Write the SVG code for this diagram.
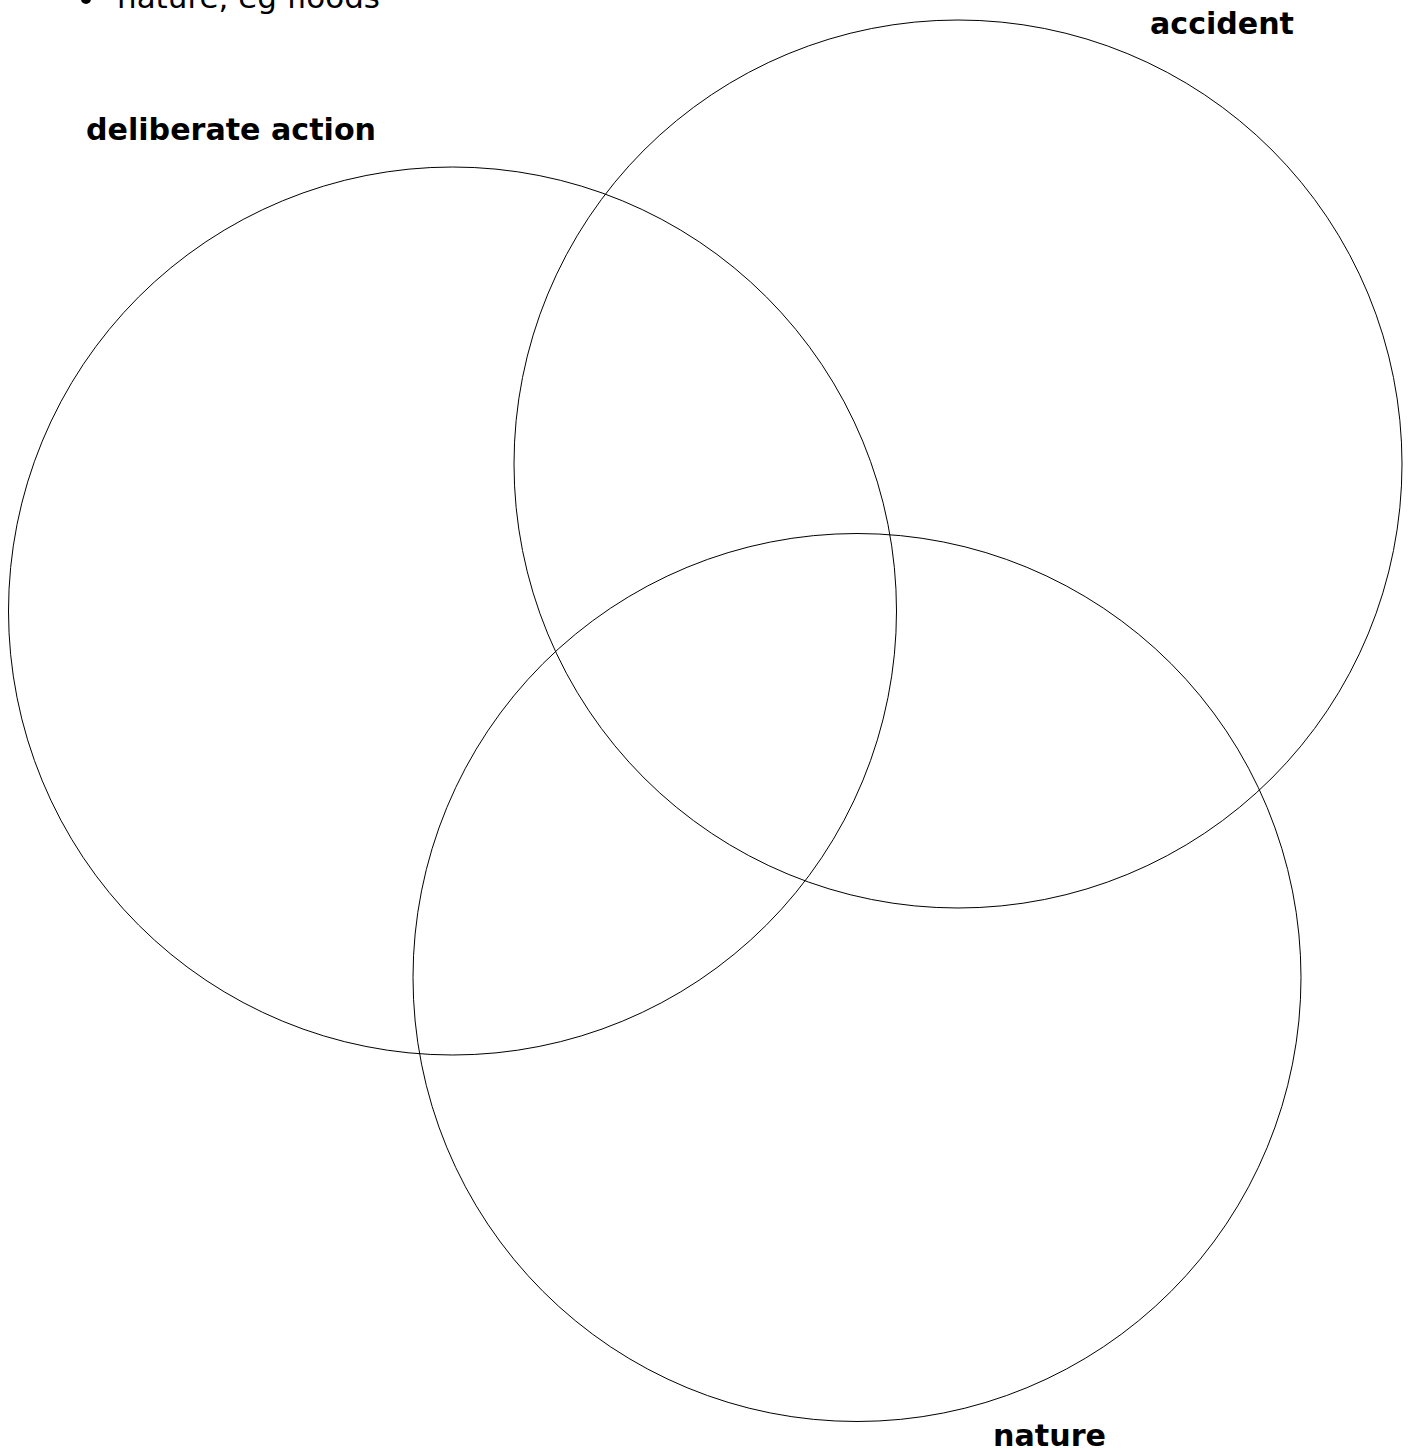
<svg xmlns="http://www.w3.org/2000/svg" width="1410" height="1450" viewBox="0 0 1410 1450">
<style>
.c{fill:none;stroke:#000;stroke-width:1}
.l{font-family:"DejaVu Sans",Verdana,sans-serif;font-weight:bold;font-size:30px;fill:#000}
.t{font-family:"DejaVu Sans",Verdana,sans-serif;font-size:30px;fill:#000}
</style>
<rect width="1410" height="1450" fill="#fff"/>
<circle cx="86" cy="-1" r="5" fill="#000"/>
<text class="t" x="117" y="8" textLength="263" lengthAdjust="spacingAndGlyphs">nature, eg floods</text>
<g id="deliberate"><circle class="c" cx="452.5" cy="611" r="444"/><text class="l" x="86" y="140" textLength="290" lengthAdjust="spacingAndGlyphs">deliberate action</text></g>
<g id="accident"><circle class="c" cx="958" cy="464" r="444"/><text class="l" x="1150" y="34" textLength="144" lengthAdjust="spacingAndGlyphs">accident</text></g>
<g id="nature"><circle class="c" cx="857" cy="977.5" r="444"/><text class="l" x="993" y="1446" textLength="113" lengthAdjust="spacingAndGlyphs">nature</text></g>
<g id="connectors"/>
</svg>
